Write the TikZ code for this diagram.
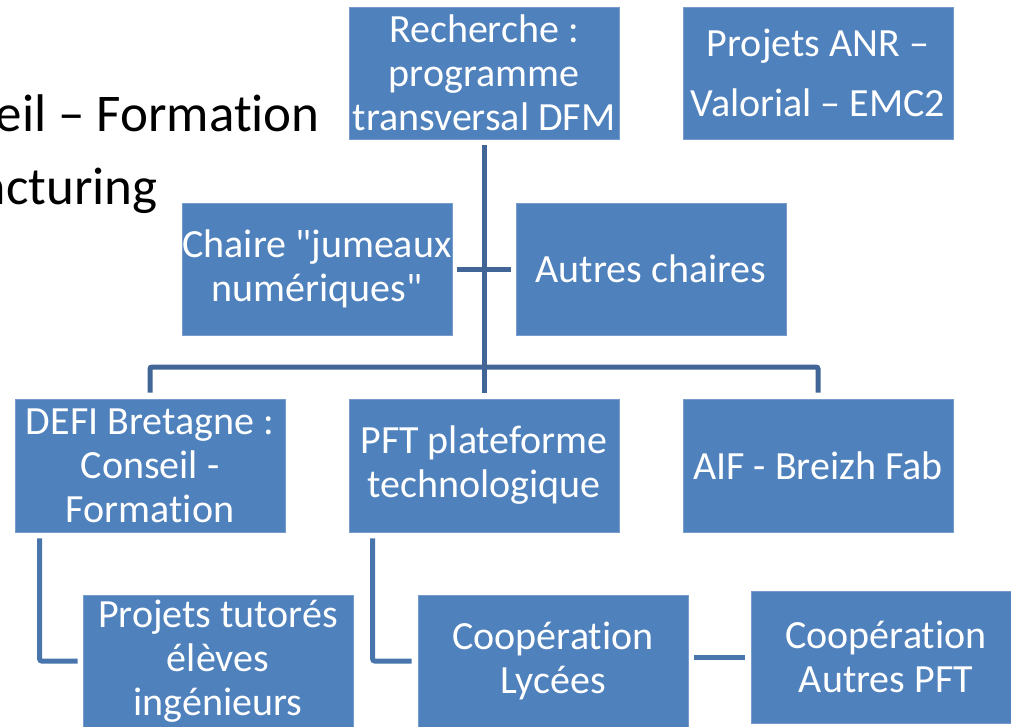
\documentclass[tikz,border=0pt]{standalone}
\usepackage{fontspec}
\newfontfamily\calfont{Carlito}[Ligatures=NoCommon]
\definecolor{boxblue}{RGB}{79,129,189}
\definecolor{boxedge}{RGB}{118,155,204}
\definecolor{connA}{RGB}{64,101,150}
\definecolor{connB}{RGB}{72,117,172}
\tikzset{
  orgbox/.style={fill=boxblue, draw=boxedge, line width=0.7pt, text=white,
    minimum width=270pt, minimum height=132pt, inner sep=0pt, align=center,
    font=\calfont\fontsize{40}{44}\selectfont},
  connA/.style={draw=connA, line width=5pt, rounded corners=2pt},
  connB/.style={draw=connB, line width=5pt, rounded corners=2pt},
  bigtext/.style={inner sep=0pt, font=\calfont\fontsize{53}{60}\selectfont, text=black}
}
\begin{document}
\begin{tikzpicture}[x=1pt,y=-1pt]
\useasboundingbox (0,0) rectangle (1011,726);
\clip (0,0) rectangle (1011,726);
% background titles (partially cut)
\node[bigtext, anchor=base east] (t1) at (320,131) {eil – Formation};
\node[bigtext, anchor=base east] (t2) at (158,204) {acturing};
% boxes
\node[orgbox] (rech) at (484,73) {Recherche :\\programme\\transversal DFM};
\node[orgbox, font=\calfont\fontsize{40}{60}\selectfont] (anr) at (818,73) {Projets ANR –\\Valorial – EMC2};
\node[orgbox] (chaire) at (317,269) {Chaire "jumeaux\\numériques"};
\node[orgbox] (autres) at (651,269) {Autres chaires};
\node[orgbox, minimum height=133pt] (defi) at (150,465.5) {DEFI Bretagne :\\Conseil -\\Formation};
\node[orgbox, minimum height=133pt] (pft) at (484,465.5) {PFT plateforme\\technologique};
\node[orgbox, minimum height=133pt] (aif) at (818,465.5) {AIF - Breizh Fab};
\node[orgbox] (tut) at (218,661) {Projets tutorés\\élèves\\ingénieurs};
\node[orgbox] (lyc) at (553,661) {Coopération\\Lycées};
\node[orgbox] (apft) at (886,657) {Coopération\\Autres PFT};
% connectors
\coordinate (bar) at (484,367);
\draw[connA] ([yshift=-6pt]rech.south) -- ([yshift=6pt]pft.north);
\draw[connA] ([yshift=6pt]defi.north) |- (bar) -| ([yshift=6pt]aif.north);
\draw[connA] ([xshift=5pt]chaire.east) -- ([xshift=-5pt]autres.west);
\draw[connB] ([shift={(25,6)}]defi.south west) |- ([xshift=-5pt]tut.west);
\draw[connB] ([shift={(24,6)}]pft.south west) |- ([xshift=-6pt]lyc.west);
\draw[connB] ([xshift=6pt]lyc.east |- apft.west) -- ([xshift=-6pt]apft.west);
\end{tikzpicture}
\end{document}
